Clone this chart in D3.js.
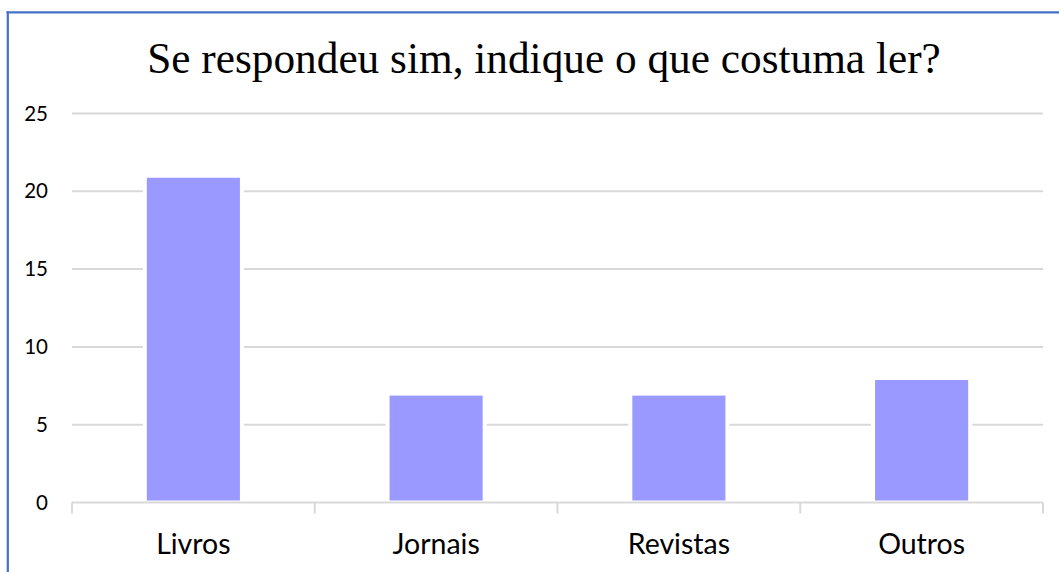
<!DOCTYPE html>
<html>
<head>
<meta charset="utf-8">
<script src="https://cdn.jsdelivr.net/npm/d3@7"></script>
<style>
  html, body { margin: 0; padding: 0; background: #fff; }
  svg { display: block; }
</style>
</head>
<body>
<svg id="chart" width="1059" height="572"></svg>
<script>
// Reading habits survey: counts per type of material
const categories = ["Livros", "Jornais", "Revistas", "Outros"];
const counts = [21, 7, 7, 8];
const yTicks = [0, 5, 10, 15, 20, 25];
const title = "Se respondeu sim, indique o que costuma ler?";

const W = 1059, H = 572;
const margin = { left: 72, right: 16, top: 113.5, bottom: 69.5 };

const svg = d3.select("#chart");

// frame: top and left edges only
svg.append("line")
  .attr("x1", 6.5).attr("x2", W).attr("y1", 12.3).attr("y2", 12.3)
  .attr("stroke", "#4472c4").attr("stroke-width", 2.2);
svg.append("line")
  .attr("x1", 7.8).attr("x2", 7.8).attr("y1", 11.2).attr("y2", H)
  .attr("stroke", "#4472c4").attr("stroke-width", 2.2);

const x = d3.scaleBand()
  .domain(categories)
  .range([margin.left, W - margin.right])
  .paddingInner(0.6).paddingOuter(0.3);

const y = d3.scaleLinear()
  .domain([0, 25])
  .range([H - margin.bottom, margin.top]);

// horizontal gridlines
svg.append("g")
  .selectAll("line")
  .data(yTicks.filter(d => d > 0))
  .join("line")
  .attr("x1", margin.left).attr("x2", W - margin.right)
  .attr("y1", d => y(d)).attr("y2", d => y(d))
  .attr("stroke", "#d9d9d9").attr("stroke-width", 2);

// y tick labels
const yAxis = d3.axisLeft(y).tickValues(yTicks).tickSize(0).tickPadding(24);
const gy = svg.append("g")
  .attr("transform", `translate(${margin.left},0)`)
  .call(yAxis);
gy.select(".domain").remove();
gy.selectAll("text")
  .attr("font-family", "Lato, 'Open Sans', sans-serif")
  .attr("font-size", 20.5)
  .attr("fill", "#000");

// bars
svg.append("g")
  .selectAll("rect")
  .data(categories.map((c, i) => ({ c, v: counts[i] })))
  .join("rect")
  .attr("x", d => x(d.c))
  .attr("width", x.bandwidth())
  .attr("y", d => y(d.v))
  .attr("height", d => y(0) - y(d.v))
  .attr("fill", "#9999ff")
  .attr("stroke", "#fff")
  .attr("stroke-width", 4);

// category axis with boundary ticks
const boundaries = d3.range(categories.length + 1)
  .map(i => margin.left + i * (W - margin.right - margin.left) / categories.length);
const gx = svg.append("g");
gx.append("line")
  .attr("x1", margin.left).attr("x2", W - margin.right)
  .attr("y1", y(0)).attr("y2", y(0))
  .attr("stroke", "#d9d9d9").attr("stroke-width", 2);
gx.selectAll("line.tick")
  .data(boundaries)
  .join("line")
  .attr("class", "tick")
  .attr("x1", d => d).attr("x2", d => d)
  .attr("y1", y(0)).attr("y2", y(0) + 11)
  .attr("stroke", "#d9d9d9").attr("stroke-width", 2);
gx.selectAll("text")
  .data(categories)
  .join("text")
  .attr("x", d => x(d) + x.bandwidth() / 2)
  .attr("y", 553.5)
  .attr("text-anchor", "middle")
  .attr("font-family", "Lato, 'Open Sans', sans-serif")
  .attr("font-size", 28.5)
  .attr("fill", "#000")
  .text(d => d);

// title
svg.append("text")
  .attr("x", 544)
  .attr("y", 73.3)
  .attr("text-anchor", "middle")
  .attr("font-family", "'Liberation Serif', 'Times New Roman', serif")
  .attr("font-size", 43.3)
  .attr("fill", "#000")
  .text(title);
</script>
</body>
</html>
